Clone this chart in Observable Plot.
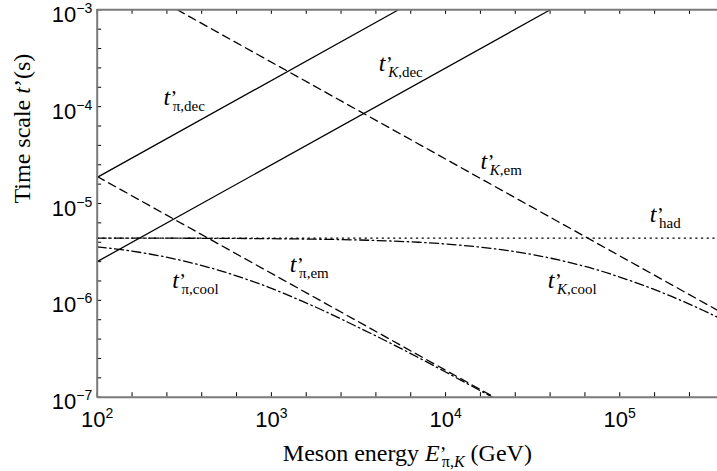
<!DOCTYPE html>
<html><head><meta charset="utf-8">
<script src="https://cdn.jsdelivr.net/npm/d3@7"></script>
<script src="https://cdn.jsdelivr.net/npm/@observablehq/plot@0.6"></script>
<style>body{margin:0;background:#fff} svg{display:block}</style>
</head><body><div id="chart"></div>
<script>
// ---- axes ----
const xDomain = [100, 3.64e5];
const yDomain = [1e-7, 1e-3];
const xMajor = [1e2, 1e3, 1e4, 1e5];
const xMajorLabels = ["10^2", "10^3", "10^4", "10^5"];
const yMajor = [1e-3, 1e-4, 1e-5, 1e-6, 1e-7];
const yMajorLabels = ["10^−3", "10^−4", "10^−5", "10^−6", "10^−7"];
const minorStepDecade = 0.2;

// ---- series (meson energy in GeV, time scale in s) ----
const piDecE = [100, 5370];
const piDecT = [1.86e-5, 1e-3];
const kDecE = [100, 39900];
const kDecT = [2.51e-6, 1e-3];
const piEmE = [100, 19000];
const piEmT = [1.9e-5, 1e-7];
const kEmE = [288, 364000];
const kEmT = [1e-3, 7.9e-7];
const hadE = [100, 364000];
const hadT = [4.4e-6, 4.4e-6];
const piCoolE = [100, 150, 200, 300, 500, 700, 1000, 1500, 2000, 3000, 5000, 7000, 10000, 15000, 18600];
const piCoolT = [3.57e-6, 3.27e-6, 3.01e-6, 2.60e-6, 2.04e-6, 1.68e-6, 1.33e-6, 9.8e-7, 7.8e-7, 5.5e-7, 3.5e-7, 2.56e-7, 1.82e-7, 1.23e-7, 1.0e-7];
const kCoolE = [100, 300, 1000, 2000, 3000, 5000, 7000, 10000, 15000, 20000, 30000, 50000, 70000, 100000, 150000, 200000, 300000, 364000];
const kCoolT = [4.39e-6, 4.38e-6, 4.33e-6, 4.27e-6, 4.21e-6, 4.09e-6, 3.98e-6, 3.82e-6, 3.58e-6, 3.37e-6, 3.02e-6, 2.49e-6, 2.13e-6, 1.74e-6, 1.34e-6, 1.09e-6, 7.9e-7, 6.7e-7];

// ---- curve labels ----
const labelSubs = ["π,dec", "K,dec", "K,em", "had", "K,cool", "π,em", "π,cool"];
const labelE = [240, 4137, 15860, 148600, 38600, 1275, 269.5];
const labelT = [1.05e-4, 2.35e-4, 2.29e-5, 6.37e-6, 1.33e-6, 1.98e-6, 1.33e-6];

const xTitle = "Meson energy E’π,K (GeV)";
const yTitle = "Time scale t’(s)";

// ---- layout ----
const W = 717, H = 471;
const mL = 96.7, mR = 0, mT = 9.3, mB = 74.3;
const plotW = W - mL - mR, plotH = H - mT - mB;
const tickLen = 4.5;
const SERIF = "'Liberation Serif','Times New Roman',Times,serif";
const SANS = "'Liberation Sans',Arial,Helvetica,sans-serif";

const rows = (E, T) => E.map((e, i) => ({E: e, t: T[i]}));
const lx = Math.log10;
const xMinor = d3.range(0, Math.round((lx(xDomain[1]) - lx(xDomain[0])) / minorStepDecade) + 1)
  .map(k => Math.pow(10, lx(xDomain[0]) + k * minorStepDecade)).filter(v => v <= xDomain[1] * 1.0001);
const yMinor = d3.range(0, Math.round((lx(yDomain[1]) - lx(yDomain[0])) / minorStepDecade) + 1)
  .map(k => Math.pow(10, lx(yDomain[0]) + k * minorStepDecade));

const DASH = "8,5", DOT = "1.3,4.4", DASHDOT = "9,3.5,1.5,3.5";
const series = [
  {data: rows(piDecE, piDecT), dash: null},
  {data: rows(kDecE, kDecT), dash: null},
  {data: rows(piEmE, piEmT), dash: DASH},
  {data: rows(kEmE, kEmT), dash: DASH},
  {data: rows(hadE, hadT), dash: DOT},
  {data: rows(piCoolE, piCoolT), dash: DASHDOT},
  {data: rows(kCoolE, kCoolT), dash: DASHDOT}
];

const labels = labelSubs.map((s, i) => ({key: "LBL:" + s, E: labelE[i], t: labelT[i]}));

const chart = Plot.plot({
  width: W, height: H,
  marginLeft: mL, marginRight: mR, marginTop: mT, marginBottom: mB,
  x: {type: "log", domain: xDomain, axis: null},
  y: {type: "log", domain: yDomain, axis: null},
  style: {background: "#fff", overflow: "visible"},
  marks: [
    ...series.map(s => Plot.line(s.data, {x: "E", y: "t", stroke: "#000", strokeWidth: 1.3,
      strokeDasharray: s.dash || undefined, curve: "monotone-x", clip: true})),
    Plot.tickX(xMinor, {x: d => d, insetTop: plotH - tickLen, stroke: "#000", strokeWidth: 1}),
    Plot.tickX(xMinor, {x: d => d, insetBottom: plotH - tickLen, stroke: "#000", strokeWidth: 1}),
    Plot.tickY(yMinor, {y: d => d, insetRight: plotW - tickLen, stroke: "#000", strokeWidth: 1}),
    Plot.ruleY(yDomain, {stroke: "#7a7a7a", strokeWidth: 2}),
    Plot.ruleX([xDomain[0]], {stroke: "#7a7a7a", strokeWidth: 2}),
    Plot.text(xMajor, {x: d => d, frameAnchor: "bottom", dy: 30, lineAnchor: "bottom",
      text: (d, i) => "TICK:" + xMajorLabels[i], fontFamily: SANS, fontSize: 22, fill: "#000"}),
    Plot.text(yMajor, {y: d => d, frameAnchor: "left", dx: -5, dy: 5, textAnchor: "end", lineAnchor: "middle",
      text: (d, i) => "TICK:" + yMajorLabels[i], fontFamily: SANS, fontSize: 22, fill: "#000"}),
    Plot.text(labels, {x: "E", y: "t", text: "key", textAnchor: "start", lineAnchor: "bottom",
      fontFamily: SERIF, fontSize: 24, fill: "#000"}),
    Plot.text([xTitle], {frameAnchor: "bottom", dy: 64, lineAnchor: "bottom", text: d => d,
      fontFamily: SERIF, fontSize: 24, fill: "#000"}),
    Plot.text([yTitle], {frameAnchor: "left", dx: -75, rotate: -90, lineAnchor: "middle", text: d => d,
      fontFamily: SERIF, fontSize: 24, fill: "#000"})
  ]
});
document.getElementById("chart").appendChild(chart);

// ---- rich text (superscripts / subscripts) ----
function rich(el, parts) {
  const sel = d3.select(el);
  sel.text(null);
  let cum = 0;
  for (const p of parts) {
    const ts = sel.append("tspan").text(p.s);
    if (p.italic) ts.attr("font-style", "italic");
    if (p.size) ts.attr("font-size", p.size);
    const shift = p.shift || 0;
    if (shift - cum) ts.attr("dy", shift - cum);
    cum = shift;
    if (p.dx) ts.attr("dx", p.dx);
  }
}
function subParts(sub, size, shift, dx) {
  const out = [];
  const pieces = sub.split(/(K)/).filter(s => s.length);
  pieces.forEach((s, j) => out.push({s, italic: s === "K", size, shift, dx: j === 0 ? dx : 0}));
  return out;
}
d3.select(chart).selectAll("text").each(function() {
  const txt = this.textContent;
  if (txt.startsWith("TICK:")) {
    const [base, exp] = txt.slice(5).split("^");
    rich(this, [{s: base}, {s: exp, size: 14, shift: -9}]);
  } else if (txt.startsWith("LBL:")) {
    const sub = txt.slice(4);
    rich(this, [{s: "t", italic: true}, {s: "’", size: 20, dx: 0.5},
      ...subParts(sub, 15, 6, -4.5)]);
  } else if (txt === xTitle) {
    rich(this, [{s: "Meson energy "}, {s: "E", italic: true}, {s: "’", size: 20},
      ...subParts("π,K", 16, 6, -4.5), {s: " (GeV)", shift: 0}]);
  } else if (txt === yTitle) {
    rich(this, [{s: "Time scale "}, {s: "t", italic: true}, {s: "’(s)"}]);
  }
});
</script></body></html>
